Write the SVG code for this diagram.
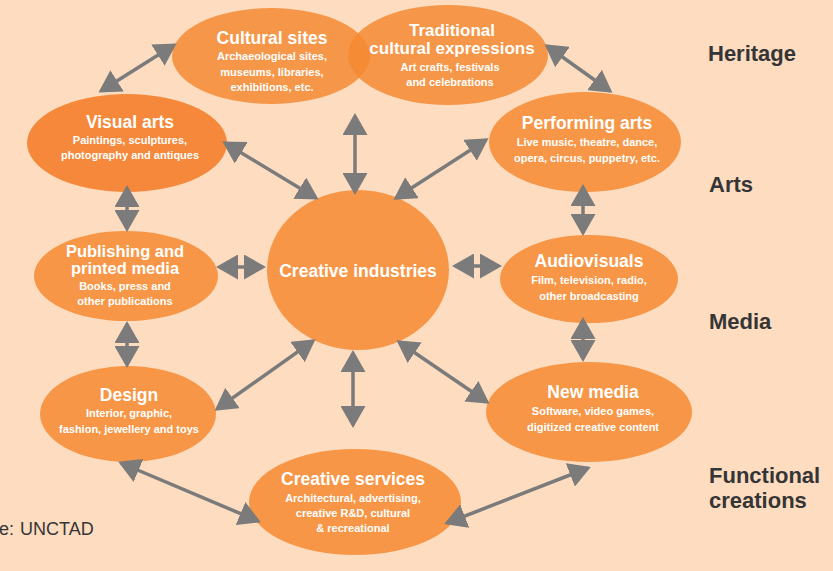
<svg xmlns="http://www.w3.org/2000/svg" width="833" height="571" viewBox="0 0 833 571">
<style>
.bg{fill:#FDDCC0}
.n{fill:#F79646}
.nt{fill:#F58A33;fill-opacity:0.85}
.nd{fill:#F5883A}
.t{font-family:"Liberation Sans",Arial,sans-serif;font-weight:bold;fill:#FFFFFF;text-anchor:middle;font-size:17.5px}
.s{font-family:"Liberation Sans",Arial,sans-serif;font-weight:bold;fill:#FFFFFF;text-anchor:middle;font-size:11px}
.lab{font-family:"Liberation Sans",Arial,sans-serif;font-weight:bold;fill:#353535;font-size:22px}
.src{font-family:"Liberation Sans",Arial,sans-serif;fill:#353535;font-size:18px}
.c{stroke:#7B7B7B;stroke-width:3.5;fill:none;marker-start:url(#ah);marker-end:url(#ah)}
</style>
<defs>
<marker id="ah" markerUnits="userSpaceOnUse" viewBox="0 0 22 25" refX="19" refY="12.5" markerWidth="22" markerHeight="25" orient="auto-start-reverse">
<path d="M0,0 L22,12.5 L0,25 Z" fill="#7B7B7B"/>
</marker>
</defs>
<rect class="bg" x="0" y="0" width="833" height="571"/>

<g id="cultural-sites">
<ellipse class="nt" cx="271" cy="56" rx="99" ry="48"/>
<text class="t" x="272" y="44">Cultural sites</text>
<text class="s" x="272" y="60">Archaeological sites,</text>
<text class="s" x="272" y="76">museums, libraries,</text>
<text class="s" x="272" y="91">exhibitions, etc.</text>
</g>
<g id="traditional">
<ellipse class="nt" cx="448" cy="55" rx="100" ry="50"/>
<text class="t" x="452" y="36" style="font-size:17px">Traditional</text>
<text class="t" x="452" y="54" style="font-size:17px">cultural expressions</text>
<text class="s" x="450" y="71">Art crafts, festivals</text>
<text class="s" x="450" y="86">and celebrations</text>
</g>
<g id="visual-arts">
<ellipse class="nd" cx="127" cy="143" rx="100" ry="49"/>
<text class="t" x="130" y="128">Visual arts</text>
<text class="s" x="130" y="144">Paintings, sculptures,</text>
<text class="s" x="130" y="159">photography and antiques</text>
</g>
<g id="performing-arts">
<ellipse class="n" cx="585" cy="142" rx="96" ry="50"/>
<text class="t" x="587" y="129">Performing arts</text>
<text class="s" x="587" y="146">Live music, theatre, dance,</text>
<text class="s" x="587" y="162">opera, circus, puppetry, etc.</text>
</g>
<g id="publishing">
<ellipse class="n" cx="126" cy="276" rx="92" ry="45"/>
<text class="t" x="125" y="257" style="font-size:16.5px">Publishing and</text>
<text class="t" x="125" y="274" style="font-size:16.5px">printed media</text>
<text class="s" x="125" y="290">Books, press and</text>
<text class="s" x="125" y="305">other publications</text>
</g>
<g id="creative-industries">
<ellipse class="n" cx="358" cy="270" rx="91" ry="80"/>
<text class="t" x="358" y="277">Creative industries</text>
</g>
<g id="audiovisuals">
<ellipse class="n" cx="589" cy="279" rx="89" ry="44"/>
<text class="t" x="589" y="267">Audiovisuals</text>
<text class="s" x="589" y="284">Film, television, radio,</text>
<text class="s" x="589" y="300">other broadcasting</text>
</g>
<g id="design">
<ellipse class="n" cx="128" cy="414" rx="88" ry="48"/>
<text class="t" x="129" y="401">Design</text>
<text class="s" x="129" y="417">Interior, graphic,</text>
<text class="s" x="129" y="433">fashion, jewellery and toys</text>
</g>
<g id="new-media">
<ellipse class="n" cx="589" cy="412" rx="103" ry="50"/>
<text class="t" x="593" y="398">New media</text>
<text class="s" x="593" y="415">Software, video games,</text>
<text class="s" x="593" y="431">digitized creative content</text>
</g>
<g id="creative-services">
<ellipse class="n" cx="355" cy="502" rx="106" ry="53"/>
<text class="t" x="353" y="485">Creative services</text>
<text class="s" x="353" y="502">Architectural, advertising,</text>
<text class="s" x="353" y="517">creative R&amp;D, cultural</text>
<text class="s" x="353" y="532">&amp; recreational</text>
</g>

<g id="connectors">
<path class="c" d="M101,91 L174,45"/>
<path class="c" d="M547,46 L610,91"/>
<path class="c" d="M355,116 L355,192"/>
<path class="c" d="M225,143 L316,198"/>
<path class="c" d="M486,140 L396,198"/>
<path class="c" d="M127,188 L127,229"/>
<path class="c" d="M219,267 L263,267"/>
<path class="c" d="M455,266 L499,266"/>
<path class="c" d="M583,187 L583,233"/>
<path class="c" d="M127,324 L127,365"/>
<path class="c" d="M583,320 L583,359"/>
<path class="c" d="M217,409 L313,341"/>
<path class="c" d="M399,342 L487,402"/>
<path class="c" d="M353,353 L353,425"/>
<path class="c" d="M121,463 L258,521"/>
<path class="c" d="M447,523 L588,468"/>
</g>

<g id="labels">
<text class="lab" x="708" y="61">Heritage</text>
<text class="lab" x="709" y="192">Arts</text>
<text class="lab" x="709" y="329">Media</text>
<text class="lab" x="709" y="483">Functional</text>
<text class="lab" x="709" y="508">creations</text>
<text class="src" x="-1" y="535">e:</text>
<text class="src" x="20" y="535">UNCTAD</text>
</g>
</svg>
